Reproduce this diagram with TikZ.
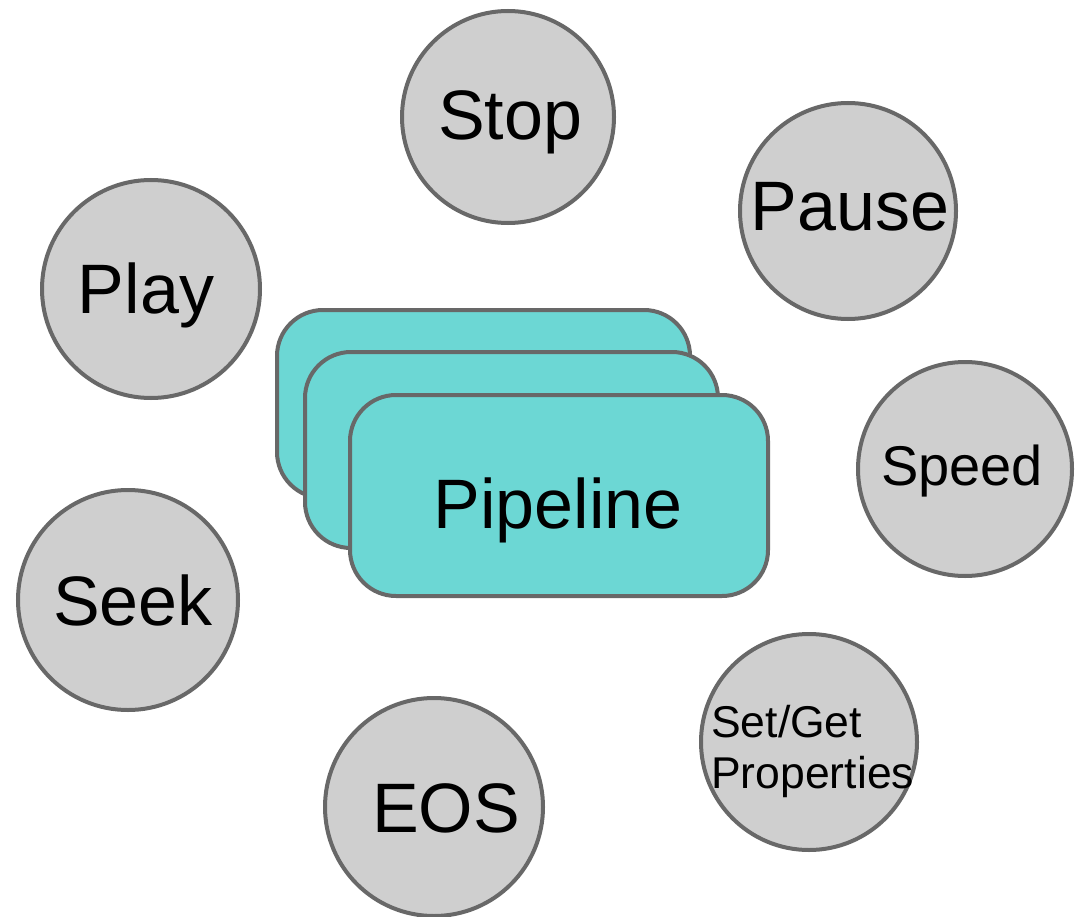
\documentclass[tikz,border=0pt]{standalone}
\usepackage{fontspec}
\setmainfont{Liberation Sans}
\definecolor{circfill}{HTML}{CFCFCF}
\definecolor{edgegray}{HTML}{686868}
\definecolor{pipefill}{HTML}{6CD7D4}
\begin{document}
\begin{tikzpicture}[x=1pt,y=1pt,
  circ/.style={circle,draw=edgegray,line width=4pt,fill=circfill,inner sep=0pt},
  pipebox/.style={rectangle,rounded corners=46pt,draw=edgegray,line width=4pt,fill=pipefill,inner sep=0pt},
  big/.style={font=\fontsize{70}{84}\selectfont,inner sep=0pt,anchor=base,text=black},
  mid/.style={font=\fontsize{56}{67}\selectfont,inner sep=0pt,anchor=base,text=black},
  small/.style={font=\fontsize{44.5}{52}\selectfont,inner sep=0pt,anchor=base west,text=black}]
\useasboundingbox (0,0) rectangle (1075,-917);
\fill[white] (0,0) rectangle (1075,-917);
% circles
\node[circ,minimum size=212pt] (stop) at (508,-117) {};
\node[big] (stoptxt) at (510,-140) {Stop};
\node[circ,minimum size=216pt] (pause) at (848,-211) {};
\node[big] (pausetxt) at (850,-230) {Pause};
\node[circ,minimum size=218pt] (play) at (151,-289) {};
\node[big] (playtxt) at (146,-313) {Play};
\node[circ,minimum size=214pt] (speed) at (965,-469) {};
\node[mid] (speedtxt) at (962,-485) {Speed};
\node[circ,minimum size=220pt] (seek) at (128,-600) {};
\node[big] (seektxt) at (133,-625) {Seek};
\node[circ,minimum size=218pt] (eos) at (434,-807) {};
\node[big] (eostxt) at (446,-832) {EOS};
\node[circ,minimum size=216pt] (setget) at (809,-742) {};
\node[small] (settxt) at (711,-737) {Set/Get};
\node[small] (proptxt) at (711,-788) {Properties};
% pipeline stack
\node[pipebox,minimum width=413pt,minimum height=188pt] (pipe3) at (483.5,-404) {};
\node[pipebox,minimum width=413pt,minimum height=196pt] (pipe2) at (511.5,-450) {};
\node[pipebox,minimum width=418pt,minimum height=201pt] (pipe1) at (559,-495.5) {};
\node[big] (pipetxt) at (558,-528) {Pipeline};
\end{tikzpicture}
\end{document}
